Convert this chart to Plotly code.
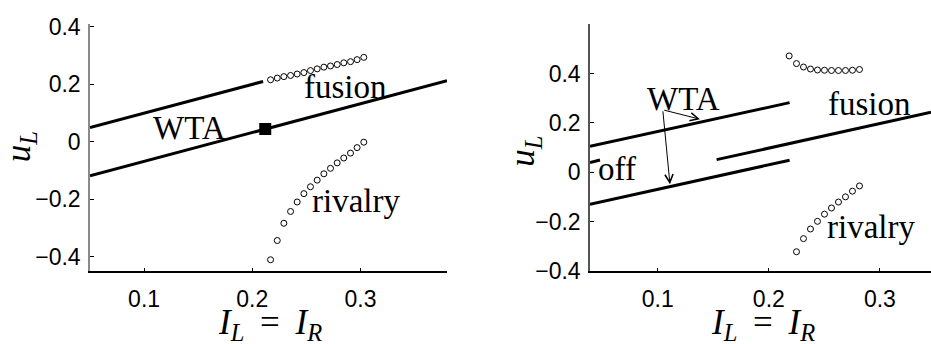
import plotly.graph_objects as go

# ---------------- left panel data ----------------
L_wta_upper_x = [0.05, 0.21]
L_wta_upper_y = [0.05, 0.21]
L_wta_lower_x = [0.05, 0.38]
L_wta_lower_y = [-0.118, 0.213]
L_square_x = [0.212]
L_square_y = [0.045]

L_circ_x = [0.2169, 0.2231, 0.2292, 0.2354, 0.2415, 0.2477, 0.2538, 0.2600,
            0.2662, 0.2723, 0.2785, 0.2846, 0.2908, 0.2969, 0.3031]
L_fusion_y = [0.216, 0.222, 0.227, 0.231, 0.236, 0.241, 0.248, 0.254,
              0.260, 0.264, 0.269, 0.275, 0.279, 0.286, 0.294]
L_rivalry_y = [-0.410, -0.343, -0.283, -0.242, -0.209, -0.180, -0.156, -0.133,
               -0.111, -0.092, -0.073, -0.056, -0.039, -0.020, -0.001]

# ---------------- right panel data ----------------
R_wta_upper_x = [0.039, 0.2187]
R_wta_upper_y = [0.105, 0.282]
R_wta_lower_x = [0.039, 0.2187]
R_wta_lower_y = [-0.129, 0.049]
R_fusion_line_x = [0.153, 0.346]
R_fusion_line_y = [0.0515, 0.243]
R_off_x = [0.039, 0.048]
R_off_y = [0.040, 0.050]

R_fusion_cx = [0.2183, 0.2249, 0.2312, 0.2375, 0.2438, 0.2501, 0.2564, 0.2627,
               0.2690, 0.2753, 0.2816]
R_fusion_cy = [0.471, 0.440, 0.426, 0.418, 0.414, 0.413, 0.412, 0.412,
               0.412, 0.413, 0.416]
R_rivalry_cx = [0.2249, 0.2312, 0.2375, 0.2438, 0.2501, 0.2564, 0.2627,
                0.2690, 0.2753, 0.2816]
R_rivalry_cy = [-0.321, -0.268, -0.229, -0.198, -0.169, -0.144, -0.120,
                -0.099, -0.076, -0.055]

x_ticks = [0.1, 0.2, 0.3]
x_tick_text = ["0.1", "0.2", "0.3"]
y_ticks = [-0.4, -0.2, 0, 0.2, 0.4]
y_tick_text = ["\u22120.4", "\u22120.2", "0", "0.2", "0.4"]

W, H = 931, 344
TICK_FONT = dict(family="Liberation Sans, Arial, sans-serif", size=23, color="black")
SERIF = "Liberation Serif, Times New Roman, serif"

fig = go.Figure()

line_style = dict(color="black", width=3)
circ_style = dict(symbol="circle-open", size=6, color="black", line=dict(width=1, color="black"))


def add_line(x, y, xa, ya):
    fig.add_trace(go.Scatter(x=x, y=y, mode="lines", line=line_style,
                             xaxis=xa, yaxis=ya, showlegend=False, hoverinfo="skip"))


def add_circles(x, y, xa, ya):
    fig.add_trace(go.Scatter(x=x, y=y, mode="markers", marker=circ_style,
                             xaxis=xa, yaxis=ya, showlegend=False, hoverinfo="skip"))


# left panel
add_line(L_wta_upper_x, L_wta_upper_y, "x", "y")
add_line(L_wta_lower_x, L_wta_lower_y, "x", "y")
add_circles(L_circ_x, L_fusion_y, "x", "y")
add_circles(L_circ_x, L_rivalry_y, "x", "y")
fig.add_trace(go.Scatter(x=L_square_x, y=L_square_y, mode="markers",
                         marker=dict(symbol="square", size=12, color="black"),
                         xaxis="x", yaxis="y", showlegend=False, hoverinfo="skip"))

# right panel
add_line(R_wta_upper_x, R_wta_upper_y, "x2", "y2")
add_line(R_wta_lower_x, R_wta_lower_y, "x2", "y2")
add_line(R_fusion_line_x, R_fusion_line_y, "x2", "y2")
add_line(R_off_x, R_off_y, "x2", "y2")
add_circles(R_fusion_cx, R_fusion_cy, "x2", "y2")
add_circles(R_rivalry_cx, R_rivalry_cy, "x2", "y2")

y_dom = [1 - 280 / H, 1 - 15 / H]
axis_common = dict(ticks="inside", ticklen=4, tickwidth=1, tickcolor="black",
                   showgrid=False, zeroline=False, showline=True, linewidth=1.5,
                   tickfont=TICK_FONT, mirror=False)

fig.update_layout(
    width=W, height=H,
    margin=dict(l=0, r=0, t=0, b=0),
    paper_bgcolor="white", plot_bgcolor="white",
    xaxis=dict(domain=[90 / W, 447 / W], range=[0.05, 0.38], anchor="y",
               tickvals=x_ticks, ticktext=x_tick_text, linecolor="black",
               ticklabelstandoff=6, **axis_common),
    yaxis=dict(domain=y_dom, range=[-0.45, 0.41], anchor="x",
               tickvals=y_ticks, ticktext=y_tick_text, linecolor="#8a8a8a",
               ticklabelstandoff=3, **axis_common),
    xaxis2=dict(domain=[590 / W, 1.0], range=[0.039, 0.346], anchor="y2",
                tickvals=x_ticks, ticktext=x_tick_text, linecolor="black",
                ticklabelstandoff=6, **axis_common),
    yaxis2=dict(domain=y_dom, range=[-0.4, 0.6], anchor="x2",
                tickvals=y_ticks, ticktext=y_tick_text, linecolor="#555555",
                ticklabelstandoff=3, **axis_common),
)

label_font = dict(family=SERIF, size=33, color="black")


def label(text, x, y, xr, yr):
    fig.add_annotation(text=text, x=x, y=y, xref=xr, yref=yr, showarrow=False,
                       font=label_font, xanchor="center", yanchor="middle")


label("WTA", 0.142, 0.048, "x", "y")
label("fusion", 0.286, 0.19, "x", "y")
label("rivalry", 0.296, -0.205, "x", "y")

label("WTA", 0.123, 0.297, "x2", "y2")
label("fusion", 0.291, 0.278, "x2", "y2")
label("off", 0.0634, 0.015, "x2", "y2")
label("rivalry", 0.292, -0.222, "x2", "y2")

# arrows from the right-panel WTA label to both WTA branches
arrow_tail = (0.1045, 0.253)
for hx, hy in [(0.138, 0.215), (0.111, -0.048)]:
    fig.add_annotation(x=hx, y=hy, ax=arrow_tail[0], ay=arrow_tail[1],
                       xref="x2", yref="y2", axref="x2", ayref="y2",
                       text="", showarrow=True, arrowhead=5, arrowsize=1.6,
                       arrowwidth=1, arrowcolor="black", standoff=0, startstandoff=0)

# axis titles
title_font = dict(family=SERIF, size=35, color="black")
xt = "<i>I</i><sub><i>L</i></sub>\u2009 = \u2009<i>I</i><sub><i>R</i></sub>"
yt = "<i>u</i><sub><i>L</i></sub>"
for cx in [270, 763]:
    fig.add_annotation(text=xt, x=cx / W, y=0, xref="paper", yref="paper",
                       showarrow=False, font=title_font, xanchor="center",
                       yanchor="bottom", yshift=-17)
for cx, cy in [(20, 147), (525, 152)]:
    fig.add_annotation(text=yt, x=cx / W, y=1 - cy / H, xref="paper", yref="paper",
                       showarrow=False, font=title_font, textangle=-90,
                       xanchor="center", yanchor="middle")

fig.write_html("out.html")
